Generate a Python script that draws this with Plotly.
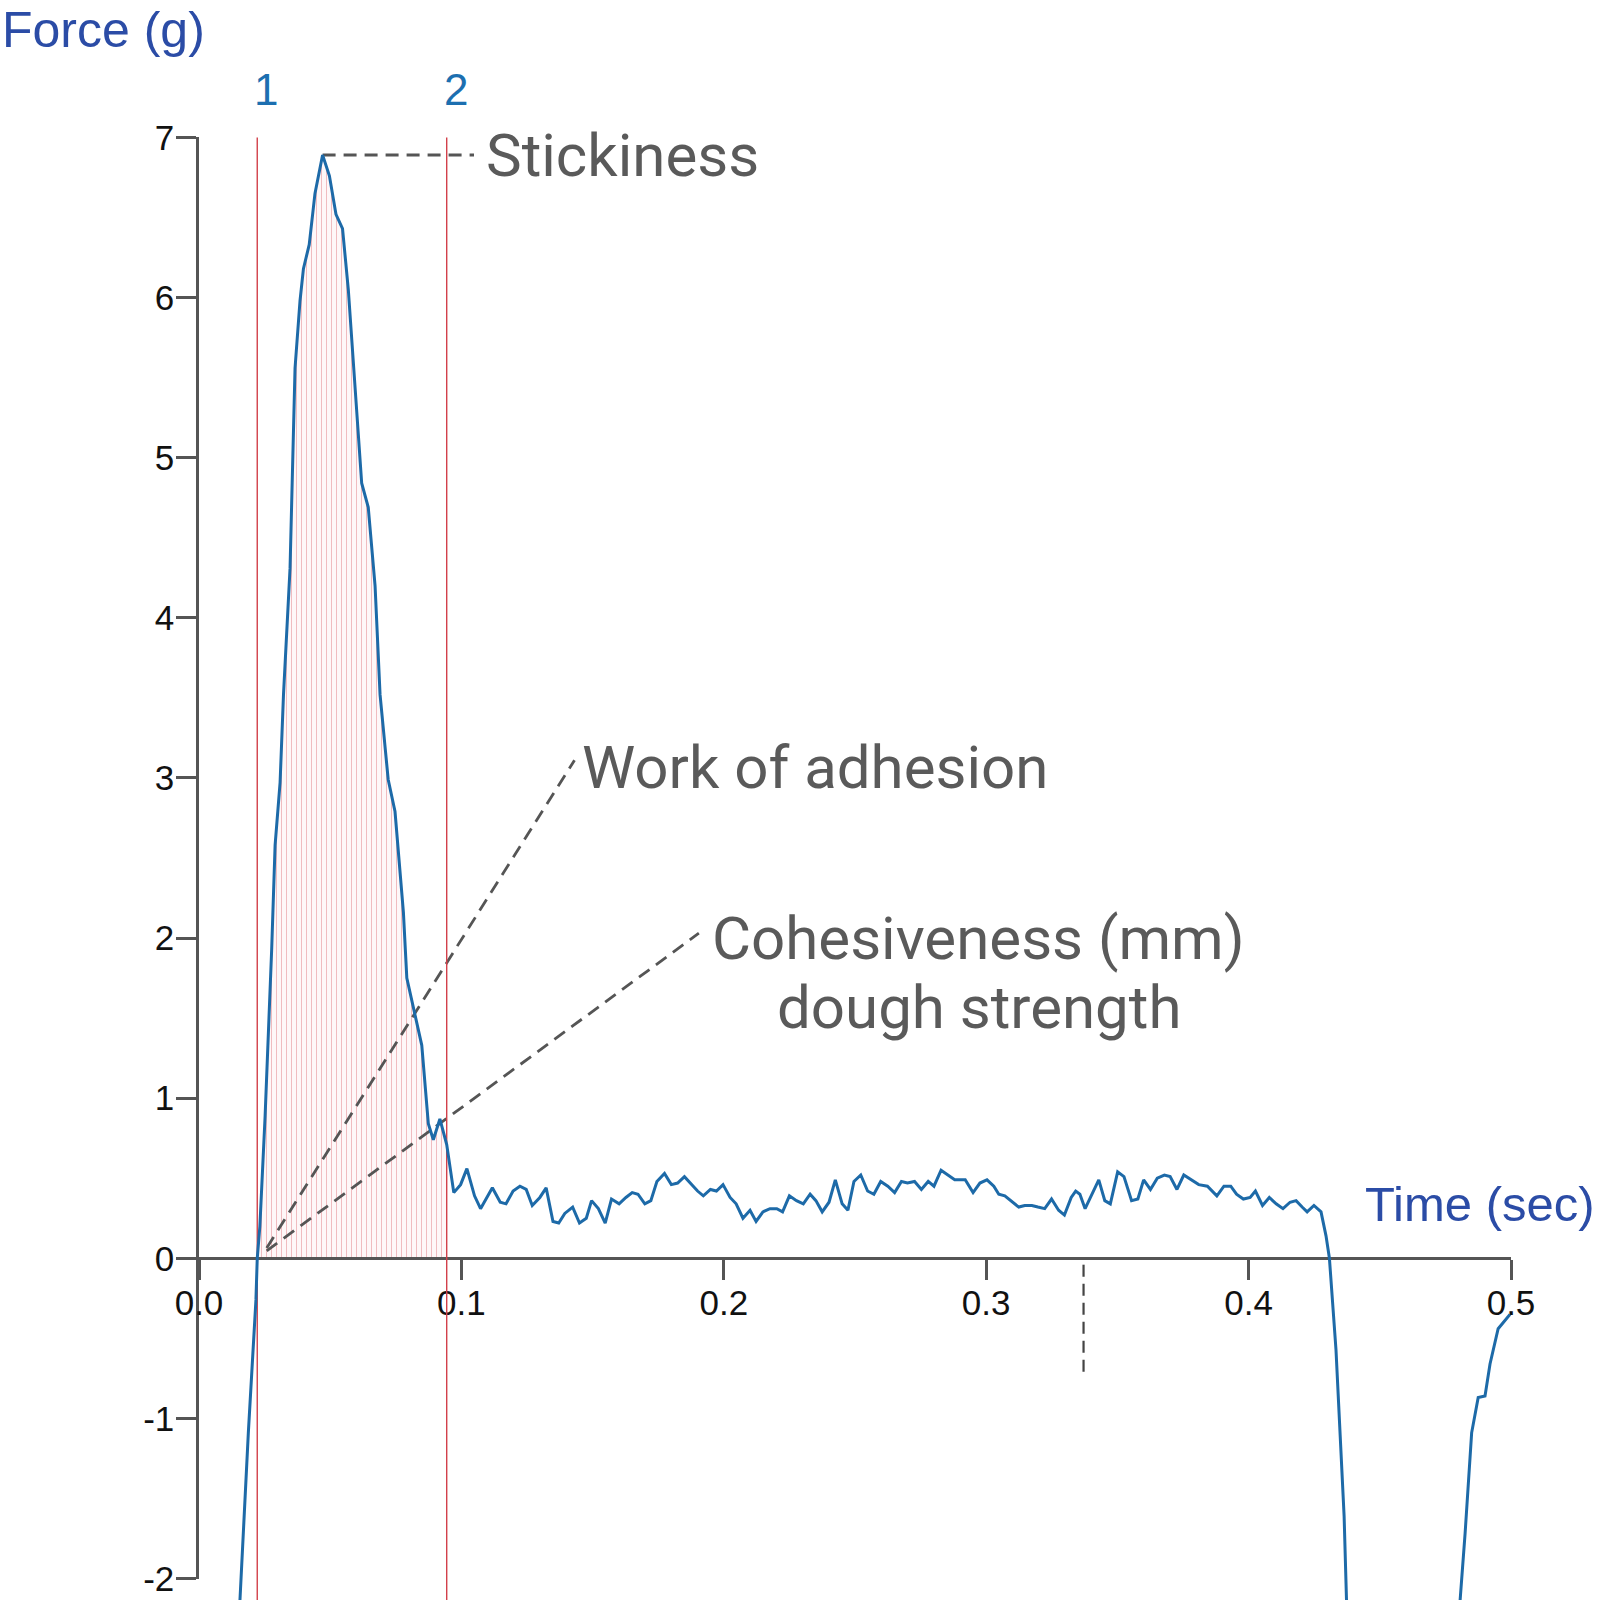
import plotly.graph_objects as go

# ---------------- data ----------------
time_s = [0.0148, 0.0188, 0.0217, 0.0222, 0.0232, 0.0252, 0.0277, 0.0290, 0.0309, 0.0322,
          0.0347, 0.0357, 0.0366, 0.0385, 0.0398, 0.0420, 0.0442, 0.0471, 0.0497, 0.0522,
          0.0547, 0.0569, 0.0595, 0.0620, 0.0645, 0.0671, 0.0690, 0.0702, 0.0721, 0.0747,
          0.0760, 0.0779, 0.0792, 0.0817, 0.0849, 0.0874, 0.0893, 0.0918, 0.0944, 0.0971,
          0.0997, 0.1021, 0.1050, 0.1073, 0.1096, 0.1118, 0.1148, 0.1170, 0.1197, 0.1223,
          0.1247, 0.1270, 0.1299, 0.1323, 0.1349, 0.1371, 0.1394, 0.1424, 0.1450, 0.1476,
          0.1496, 0.1522, 0.1548, 0.1572, 0.1601, 0.1627, 0.1651, 0.1673, 0.1699, 0.1722,
          0.1745, 0.1774, 0.1800, 0.1824, 0.1850, 0.1877, 0.1900, 0.1922, 0.1949, 0.1972,
          0.1997, 0.2024, 0.2047, 0.2073, 0.2100, 0.2123, 0.2149, 0.2176, 0.2202, 0.2224,
          0.2250, 0.2277, 0.2303, 0.2329, 0.2351, 0.2375, 0.2401, 0.2425, 0.2451, 0.2473,
          0.2496, 0.2522, 0.2548, 0.2572, 0.2598, 0.2625, 0.2651, 0.2677, 0.2700, 0.2727,
          0.2753, 0.2779, 0.2801, 0.2828, 0.2854, 0.2880, 0.2920, 0.2950, 0.2976, 0.3003,
          0.3029, 0.3048, 0.3071, 0.3095, 0.3124, 0.3147, 0.3174, 0.3197, 0.3223, 0.3249,
          0.3276, 0.3298, 0.3324, 0.3341, 0.3357, 0.3377, 0.3403, 0.3429, 0.3452, 0.3473,
          0.3501, 0.3525, 0.3554, 0.3578, 0.3600, 0.3626, 0.3652, 0.3679, 0.3701, 0.3727,
          0.3753, 0.3779, 0.3810, 0.3843, 0.3879, 0.3906, 0.3932, 0.3954, 0.3980, 0.4006,
          0.4026, 0.4053, 0.4079, 0.4105, 0.4131, 0.4158, 0.4181, 0.4204, 0.4223, 0.4249,
          0.4276, 0.4295, 0.4308, 0.4333, 0.4349, 0.4364, 0.4373, 0.4377, None,
          0.4794, 0.4806, 0.4825, 0.4850, 0.4875, 0.4901, 0.4920, 0.4951, 0.4996]
force_g = [-2.40, -1.09, -0.26, 0.00, 0.20, 0.89, 1.93, 2.58, 2.97, 3.52,
           4.31, 5.02, 5.56, 5.98, 6.18, 6.33, 6.65, 6.89, 6.76, 6.52,
           6.43, 6.05, 5.42, 4.84, 4.69, 4.20, 3.52, 3.32, 2.99, 2.79,
           2.51, 2.16, 1.75, 1.56, 1.33, 0.84, 0.74, 0.87, 0.71, 0.41,
           0.46, 0.56, 0.39, 0.31, 0.38, 0.44, 0.35, 0.34, 0.42, 0.45,
           0.43, 0.33, 0.38, 0.44, 0.23, 0.22, 0.28, 0.32, 0.22, 0.25,
           0.36, 0.31, 0.22, 0.37, 0.34, 0.38, 0.41, 0.40, 0.34, 0.36,
           0.48, 0.53, 0.46, 0.47, 0.51, 0.46, 0.42, 0.39, 0.43, 0.42,
           0.46, 0.38, 0.34, 0.25, 0.30, 0.23, 0.29, 0.31, 0.31, 0.29,
           0.39, 0.36, 0.34, 0.40, 0.36, 0.29, 0.35, 0.49, 0.34, 0.30,
           0.48, 0.52, 0.42, 0.40, 0.48, 0.45, 0.41, 0.48, 0.47, 0.48,
           0.43, 0.48, 0.45, 0.55, 0.52, 0.49, 0.49, 0.41, 0.47, 0.49,
           0.45, 0.40, 0.39, 0.36, 0.32, 0.33, 0.33, 0.32, 0.31, 0.37,
           0.30, 0.27, 0.38, 0.42, 0.40, 0.31, 0.40, 0.49, 0.36, 0.34,
           0.54, 0.51, 0.36, 0.37, 0.49, 0.43, 0.50, 0.52, 0.51, 0.43,
           0.52, 0.49, 0.46, 0.45, 0.39, 0.45, 0.45, 0.40, 0.37, 0.38,
           0.42, 0.33, 0.38, 0.34, 0.31, 0.35, 0.36, 0.32, 0.29, 0.33,
           0.29, 0.14, 0.00, -0.57, -1.09, -1.61, -2.13, -2.40, None,
           -2.40, -2.13, -1.72, -1.09, -0.87, -0.86, -0.66, -0.44, -0.35]

cursor_t = [0.0222, 0.0944]          # red markers 1 and 2
cursor_labels = ["1", "2"]
peak_t, peak_f = 0.0471, 6.89        # stickiness peak

x_tickvals = [0.0, 0.1, 0.2, 0.3, 0.4, 0.5]
x_ticktext = ["0.0", "0.1", "0.2", "0.3", "0.4", "0.5"]
y_tickvals = [-2, -1, 0, 1, 2, 3, 4, 5, 6, 7]
y_ticktext = ["-2", "-1", "0", "1", "2", "3", "4", "5", "6", "7"]

stick_leader_t = [peak_t, 0.1048]
stick_leader_f = [peak_f, peak_f]
work_leader_t = [0.0258, 0.1431]
work_leader_f = [0.064, 3.11]
coh_leader_t = [0.0258, 0.1905]
coh_leader_f = [0.047, 2.03]
mark_t = [0.3371, 0.3371]
mark_f = [-0.04, -0.72]

# ---------------- layout geometry ----------------
W = H = 1600
X_MIN, X_MAX = 0.0, 0.5
Y_BOTTOM, Y_TOP = -2.134, 7.858      # full-height data axis
Y_AX_MIN, Y_AX_MAX = -2, 7           # drawn axis span
x_dom = [199 / W, 1511 / W]
span = Y_TOP - Y_BOTTOM
y_dom = [(Y_AX_MIN - Y_BOTTOM) / span, (Y_AX_MAX - Y_BOTTOM) / span]
x_pos = (0 - Y_BOTTOM) / span

LINE_BLUE = "#1d6aa8"
RED = "#d2404a"
GREY = "#555555"
TXT_GREY = "#5a5a5a"
TITLE_BLUE = "#2b4ca6"

fig = go.Figure()

# hatched area between cursors (on the visible axes, under the leader lines)
fill_t, fill_f = [], []
for t, f in zip(time_s, force_g):
    if t is not None and cursor_t[0] <= t <= cursor_t[1]:
        fill_t.append(t)
        fill_f.append(f)
fig.add_trace(go.Scatter(
    x=fill_t, y=fill_f, xaxis="x", yaxis="y", mode="lines",
    line=dict(width=0), fill="tozeroy", fillcolor="rgba(252,240,242,0.6)",
    fillpattern=dict(shape="|", size=5, solidity=0.2, fgcolor=RED, fgopacity=0.32,
                     bgcolor="rgba(253,242,244,0.6)"),
    hoverinfo="skip", showlegend=False))

# leader lines
fig.add_trace(go.Scatter(x=stick_leader_t, y=stick_leader_f, xaxis="x", yaxis="y", mode="lines",
                         line=dict(color=GREY, width=3, dash="13px,8px"), showlegend=False))
fig.add_trace(go.Scatter(x=work_leader_t, y=work_leader_f, xaxis="x", yaxis="y", mode="lines",
                         line=dict(color=GREY, width=2.8, dash="13px,8px"), showlegend=False))
fig.add_trace(go.Scatter(x=coh_leader_t, y=coh_leader_f, xaxis="x", yaxis="y", mode="lines",
                         line=dict(color=GREY, width=2.8, dash="13px,8px"), showlegend=False))
fig.add_trace(go.Scatter(x=mark_t, y=mark_f, xaxis="x", yaxis="y", mode="lines",
                         line=dict(color="#444444", width=2.2, dash="12px,7px"), showlegend=False))

# red cursor lines
for ct in cursor_t:
    fig.add_trace(go.Scatter(
        x=[ct, ct], y=[Y_AX_MAX, Y_BOTTOM - 0.3], xaxis="x", yaxis="y2", mode="lines",
        line=dict(color=RED, width=1.4), hoverinfo="skip", showlegend=False))

# main force curve
fig.add_trace(go.Scatter(
    x=time_s, y=force_g, xaxis="x", yaxis="y2", mode="lines",
    line=dict(color=LINE_BLUE, width=3), connectgaps=False, showlegend=False))

ax_font = dict(family="Liberation Sans, Arial, sans-serif", size=35, color="#111111")

fig.update_layout(
    width=W, height=H, margin=dict(l=0, r=0, t=0, b=0, pad=0, autoexpand=False),
    paper_bgcolor="white", plot_bgcolor="rgba(0,0,0,0)",
    xaxis=dict(domain=x_dom, range=[X_MIN, X_MAX], anchor="free", position=x_pos,
               showline=True, linecolor=GREY, linewidth=2.5, ticks="outside", ticklen=20,
               tickwidth=2.5, tickcolor=GREY, tickvals=x_tickvals, ticktext=x_ticktext,
               tickfont=ax_font, showgrid=False, zeroline=False, ticklabelstandoff=-7,
               automargin=False),
    yaxis=dict(domain=y_dom, range=[Y_AX_MIN, Y_AX_MAX], anchor="x",
               showline=True, linecolor=GREY, linewidth=2.5, ticks="outside", ticklen=20,
               tickwidth=2.5, tickcolor=GREY, tickvals=y_tickvals, ticktext=y_ticktext,
               tickfont=ax_font, showgrid=False, zeroline=False, ticklabelstandoff=-5,
               automargin=False),
    yaxis2=dict(domain=[0, 1], range=[Y_BOTTOM, Y_TOP], anchor="x", visible=False,
                showgrid=False, zeroline=False, automargin=False),
    showlegend=False,
)

label_font = dict(family="Roboto, sans-serif", size=60, color=TXT_GREY)
title_font = dict(family="Liberation Sans, Arial, sans-serif", size=49, color=TITLE_BLUE)

annots = [
    dict(text="Stickiness", x=0.1086, y=6.886, xanchor="left", yanchor="middle", font=label_font),
    dict(text="Work of adhesion", x=0.1451, y=3.062, xanchor="left", yanchor="middle", font=label_font),
    dict(text="Cohesiveness (mm)", x=0.2971, y=2.000, xanchor="center", yanchor="middle", font=label_font),
    dict(text="dough strength", x=0.2973, y=1.566, xanchor="center", yanchor="middle", font=label_font),
    dict(text="Time (sec)", x=0.4436, y=0.336, xanchor="left", yanchor="middle", font=title_font),
]
for ct, lab in zip(cursor_t, cursor_labels):
    annots.append(dict(text=lab, x=ct + 0.0035, y=7.298, xanchor="center", yanchor="middle",
                       font=dict(family="Liberation Sans, Arial, sans-serif", size=44, color="#1c6fb0")))
for a in annots:
    a.update(xref="x", yref="y2", showarrow=False)
annots.append(dict(text="Force (g)", xref="paper", x=0, xanchor="left", yref="paper", y=1,
                   yanchor="top", showarrow=False, font=dict(title_font, size=50)))
fig.update_layout(annotations=annots)

fig.write_html("out.html", config={"displayModeBar": False},
               post_script="document.body.style.margin='0px';")
